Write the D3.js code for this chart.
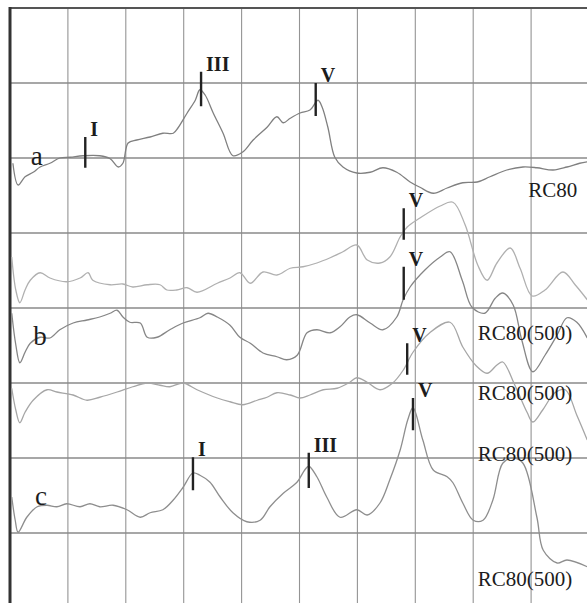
<!DOCTYPE html>
<html>
<head>
<meta charset="utf-8">
<script src="https://cdn.jsdelivr.net/npm/d3@7"></script>
<style>
  body { margin: 0; background: #fff; }
  svg { display: block; }
  text { font-family: "Liberation Serif", "Times New Roman", serif; fill: #1c1c1c; }
</style>
</head>
<body>
<svg id="chart" width="587" height="603"></svg>
<script>
// time in ms, position in grid divisions from the top
var traceA = [[0.05,2.07],[0.14,2.36],[0.26,2.25],[0.40,2.19],[0.52,2.12],[0.69,2.07],[0.86,2.00],[1.04,1.99],[1.26,1.97],[1.55,1.97],[1.73,2.01],[1.87,2.12],[1.95,2.07],[2.04,1.80],[2.19,1.76],[2.42,1.72],[2.64,1.67],[2.82,1.67],[2.90,1.60],[3.06,1.40],[3.20,1.23],[3.28,1.09],[3.37,1.16],[3.51,1.40],[3.68,1.67],[3.85,1.97],[4.02,1.92],[4.20,1.76],[4.44,1.59],[4.61,1.45],[4.72,1.53],[4.84,1.47],[5.01,1.40],[5.18,1.36],[5.32,1.23],[5.39,1.32],[5.49,1.59],[5.61,1.99],[5.75,2.12],[5.99,2.20],[6.22,2.19],[6.44,2.13],[6.68,2.19],[6.91,2.32],[7.08,2.39],[7.31,2.47],[7.55,2.40],[7.82,2.33],[8.07,2.32],[8.29,2.25],[8.58,2.16],[8.86,2.12],[9.10,2.13],[9.38,2.16],[9.62,2.12],[9.84,2.07],[9.97,2.05]]
var traceB = [[0.03,3.32],[0.10,3.76],[0.17,3.93],[0.26,3.76],[0.35,3.63],[0.52,3.53],[0.69,3.60],[0.98,3.65],[1.21,3.60],[1.35,3.53],[1.43,3.63],[1.73,3.69],[1.95,3.68],[2.12,3.72],[2.37,3.69],[2.59,3.69],[2.71,3.76],[2.88,3.76],[3.06,3.73],[3.23,3.79],[3.58,3.67],[3.80,3.60],[3.97,3.53],[4.15,3.67],[4.37,3.52],[4.61,3.56],[4.84,3.47],[5.06,3.45],[5.30,3.40],[5.53,3.33],[5.75,3.25],[5.99,3.16],[6.17,3.36],[6.39,3.40],[6.56,3.32],[6.74,3.05],[6.86,2.92],[7.08,2.80],[7.43,2.64],[7.65,2.59],[7.86,2.89],[8.08,3.43],[8.24,3.63],[8.41,3.40],[8.64,3.20],[8.81,3.47],[9.02,3.84],[9.24,3.76],[9.55,3.52],[9.76,3.69],[9.97,3.89]]
var traceC = [[0.03,4.07],[0.10,4.49],[0.17,4.73],[0.26,4.59],[0.35,4.47],[0.52,4.39],[0.69,4.40],[0.86,4.29],[1.09,4.20],[1.33,4.16],[1.55,4.12],[1.73,4.07],[1.85,4.03],[1.95,4.12],[2.07,4.19],[2.25,4.20],[2.37,4.39],[2.54,4.39],[2.76,4.29],[2.99,4.20],[3.28,4.13],[3.42,4.07],[3.58,4.12],[3.80,4.23],[3.97,4.39],[4.15,4.47],[4.37,4.60],[4.61,4.65],[4.78,4.69],[4.96,4.63],[5.13,4.33],[5.30,4.29],[5.53,4.33],[5.70,4.25],[5.87,4.12],[5.99,4.09],[6.22,4.20],[6.44,4.29],[6.68,4.12],[6.79,3.89],[6.91,3.72],[7.17,3.49],[7.43,3.32],[7.60,3.25],[7.81,3.63],[7.98,3.99],[8.20,4.07],[8.38,3.87],[8.51,3.80],[8.69,3.96],[8.84,4.43],[9.03,4.85],[9.24,4.63],[9.45,4.36],[9.62,4.13],[9.79,4.19],[9.97,4.40]]
var traceD = [[0.03,5.07],[0.10,5.36],[0.17,5.53],[0.26,5.39],[0.40,5.23],[0.64,5.09],[0.81,5.12],[1.09,5.16],[1.33,5.23],[1.55,5.19],[1.85,5.12],[2.12,5.05],[2.37,5.00],[2.59,5.03],[2.76,5.05],[2.99,5.00],[3.23,5.09],[3.58,5.20],[3.80,5.25],[4.02,5.29],[4.27,5.23],[4.44,5.19],[4.61,5.13],[4.84,5.16],[5.01,5.20],[5.18,5.16],[5.41,5.09],[5.65,5.07],[5.87,4.99],[5.99,4.93],[6.17,4.99],[6.39,5.09],[6.61,5.00],[6.79,4.83],[6.96,4.59],[7.25,4.33],[7.60,4.19],[7.82,4.52],[8.05,4.77],[8.24,4.87],[8.41,4.76],[8.51,4.72],[8.72,5.03],[8.93,5.39],[9.03,5.52],[9.20,5.36],[9.41,5.13],[9.59,5.09],[9.79,5.43],[9.97,5.76]]
var traceE = [[0.03,6.52],[0.09,6.83],[0.14,6.99],[0.29,6.79],[0.47,6.65],[0.64,6.63],[0.81,6.65],[0.98,6.61],[1.21,6.65],[1.38,6.61],[1.55,6.65],[1.78,6.63],[2.02,6.69],[2.25,6.79],[2.42,6.73],[2.64,6.69],[2.82,6.56],[2.99,6.39],[3.16,6.20],[3.28,6.23],[3.45,6.32],[3.63,6.52],[3.85,6.73],[4.09,6.85],[4.32,6.83],[4.49,6.65],[4.72,6.47],[4.96,6.32],[5.09,6.16],[5.16,6.11],[5.30,6.25],[5.47,6.52],[5.70,6.79],[5.99,6.69],[6.17,6.76],[6.39,6.60],[6.56,6.29],[6.74,5.89],[6.87,5.49],[6.96,5.33],[7.13,5.76],[7.31,6.16],[7.55,6.25],[7.65,6.33],[7.82,6.60],[8.00,6.83],[8.17,6.83],[8.34,6.56],[8.51,6.07],[8.69,6.00],[8.86,6.07],[9.10,6.79],[9.21,7.23],[9.45,7.40],[9.62,7.36],[9.97,7.45]]

var traceColors = ["#808080", "#b0b0b0", "#868686", "#a6a6a6", "#8e8e8e"]

// wave markers: [label, ms, top, bottom]
var waveMarks = [["I",1.30,1.72,2.13],["III",3.30,0.85,1.31],["V",5.28,1.00,1.44],
    ["V",6.80,2.67,3.09],["V",6.80,3.45,3.89],["V",6.86,4.47,4.89],
    ["I",3.16,5.99,6.43],["III",5.16,5.93,6.40],["V",6.96,5.20,5.63]]

// trace names: [text, ms, div]
var traceNames = [["a",0.36,2.09],["b",0.40,4.49],["c",0.43,6.63]]
var conditionLabels = [["RC80",8.95,2.52],["RC80(500)",8.08,4.43],["RC80(500)",8.08,5.23],["RC80(500)",8.08,6.04],["RC80(500)",8.08,7.71]]

var width = 587
var height = 603

var x = d3.scaleLinear().domain([0, 10]).range([10, 589])
var y = d3.scaleLinear().domain([0, 8]).range([8, 608])

var svg = d3.select("#chart")

svg.append("rect").attr("width", width).attr("height", height).attr("fill", "#fff")

var grid = svg.append("g")
grid.selectAll(".v")
    .data(d3.range(1, 11))
    .enter().append("line")
    .attr("x1", function(d) { return x(d) })
    .attr("x2", function(d) { return x(d) })
    .attr("y1", y(0)).attr("y2", height)
    .attr("stroke", "#949494").attr("stroke-width", 1.1)

grid.selectAll(".h")
    .data(d3.range(1, 8))
    .enter().append("line")
    .attr("x1", x(0)).attr("x2", width)
    .attr("y1", function(d) { return y(d) })
    .attr("y2", function(d) { return y(d) })
    .attr("stroke", "#8a8a8a").attr("stroke-width", 1.4)

grid.append("line")
    .attr("x1", x(0)).attr("x2", width).attr("y1", y(0)).attr("y2", y(0))
    .attr("stroke", "#555").attr("stroke-width", 2)
grid.append("line")
    .attr("x1", x(0)).attr("x2", x(0)).attr("y1", y(0) - 1).attr("y2", height)
    .attr("stroke", "#333").attr("stroke-width", 3)

var line = d3.line()
    .curve(d3.curveCatmullRom.alpha(0.5))
    .x(function(d) { return x(d[0]) })
    .y(function(d) { return y(d[1]) })

svg.append("g").selectAll("path")
    .data([traceA, traceB, traceC, traceD, traceE])
    .enter().append("path")
    .attr("d", line)
    .attr("fill", "none")
    .attr("stroke", function(d, i) { return traceColors[i] })
    .attr("stroke-width", 1.3)
    .attr("stroke-linejoin", "round")

var marks = svg.append("g")
marks.selectAll("line")
    .data(waveMarks)
    .enter().append("line")
    .attr("x1", function(d) { return x(d[1]) })
    .attr("x2", function(d) { return x(d[1]) })
    .attr("y1", function(d) { return y(d[2]) })
    .attr("y2", function(d) { return y(d[3]) })
    .attr("stroke", "#222").attr("stroke-width", 2.4)

marks.selectAll("text")
    .data(waveMarks)
    .enter().append("text")
    .attr("x", function(d) { return x(d[1]) + 5 })
    .attr("y", function(d) { return y(d[2]) - 1 })
    .attr("font-size", 20)
    .attr("font-weight", "bold")
    .text(function(d) { return d[0] })

svg.append("g").selectAll("text")
    .data(traceNames)
    .enter().append("text")
    .attr("x", function(d) { return x(d[1]) })
    .attr("y", function(d) { return y(d[2]) })
    .attr("font-size", 27)
    .text(function(d) { return d[0] })

svg.append("g").selectAll("text")
    .data(conditionLabels)
    .enter().append("text")
    .attr("x", function(d) { return x(d[1]) })
    .attr("y", function(d) { return y(d[2]) })
    .attr("font-size", 21)
    .text(function(d) { return d[0] })
</script>
</body>
</html>
